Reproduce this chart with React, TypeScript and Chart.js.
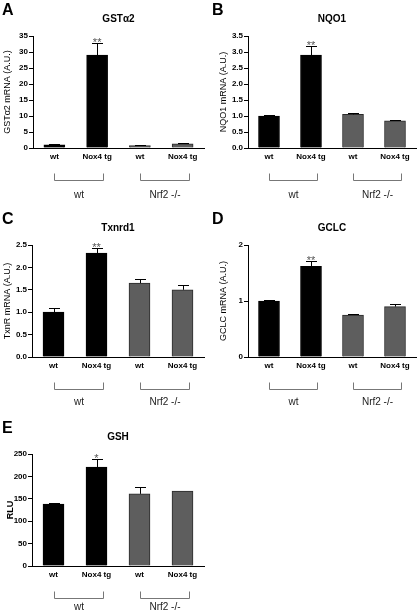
import React, { useEffect, useRef } from "react";
import { Chart, registerables } from "chart.js";

Chart.register(...registerables);

const FONT = "'Liberation Sans', Arial, Helvetica, sans-serif";

// ---------- data ----------
const categories = ["wt", "Nox4 tg", "wt", "Nox4 tg"];
const groupLabels = ["wt", "Nrf2 -/-"];

const gstValues = [1.0, 29.0, 0.75, 1.3];
const gstErrors = [0.15, 3.8, 0.12, 0.3];
const gstStars = ["", "**", "", ""];
const gstTicks = [0, 5, 10, 15, 20, 25, 30, 35];

const nqo1Values = [1.0, 2.9, 1.05, 0.85];
const nqo1Errors = [0.02, 0.28, 0.03, 0.02];
const nqo1Stars = ["", "**", "", ""];
const nqo1Ticks = [0, 0.5, 1.0, 1.5, 2.0, 2.5, 3.0, 3.5];

const txnValues = [1.0, 2.32, 1.65, 1.5];
const txnErrors = [0.1, 0.11, 0.09, 0.11];
const txnStars = ["", "**", "", ""];
const txnTicks = [0, 0.5, 1.0, 1.5, 2.0, 2.5];

const gclcValues = [1.0, 1.62, 0.75, 0.9];
const gclcErrors = [0.01, 0.09, 0.02, 0.05];
const gclcStars = ["", "**", "", ""];
const gclcTicks = [0, 1, 2];

const gshValues = [138, 221, 161, 167];
const gshErrors = [2, 17, 15, 0];
const gshStars = ["", "*", "", ""];
const gshTicks = [0, 50, 100, 150, 200, 250];

const barFill = ["#000000", "#000000", "#5e5e5e", "#5e5e5e"];
const barBorder = ["#000000", "#000000", "#2a2a2a", "#2a2a2a"];

type Panel = {
  letter: string;
  title: string;
  yTitle: string;
  yTitleBold: boolean;
  values: number[];
  errors: number[];
  stars: string[];
  ticks: number[];
  decimals: number;
};

const panels: Panel[] = [
  { letter: "A", title: "GSTα2", yTitle: "GSTα2 mRNA (A.U.)", yTitleBold: false, values: gstValues, errors: gstErrors, stars: gstStars, ticks: gstTicks, decimals: 0 },
  { letter: "B", title: "NQO1", yTitle: "NQO1 mRNA (A.U.)", yTitleBold: false, values: nqo1Values, errors: nqo1Errors, stars: nqo1Stars, ticks: nqo1Ticks, decimals: 1 },
  { letter: "C", title: "Txnrd1", yTitle: "TxnR mRNA (A.U.)", yTitleBold: false, values: txnValues, errors: txnErrors, stars: txnStars, ticks: txnTicks, decimals: 1 },
  { letter: "D", title: "GCLC", yTitle: "GCLC mRNA (A.U.)", yTitleBold: false, values: gclcValues, errors: gclcErrors, stars: gclcStars, ticks: gclcTicks, decimals: 0 },
  { letter: "E", title: "GSH", yTitle: "RLU", yTitleBold: true, values: gshValues, errors: gshErrors, stars: gshStars, ticks: gshTicks, decimals: 0 },
];

// ---------- layout (positions/sizes) ----------
type Box = { left: number; top: number; width: number; height: number; axisW: number; padRight: number; titlePad: number; groupOffset: number };
const boxes: Box[] = [
  { left: 0, top: 0, width: 210, height: 209, axisW: 33, padRight: 6, titlePad: 2, groupOffset: 47 },
  { left: 210, top: 0, width: 210, height: 209, axisW: 38, padRight: 4, titlePad: 8, groupOffset: 47 },
  { left: 0, top: 209, width: 210, height: 209, axisW: 32, padRight: 6, titlePad: 2, groupOffset: 45 },
  { left: 210, top: 209, width: 210, height: 209, axisW: 38, padRight: 4, titlePad: 8, groupOffset: 45 },
  { left: 0, top: 418, width: 210, height: 198, axisW: 32, padRight: 6, titlePad: 5, groupOffset: 41 },
];

const PLOT_TOP = 36;
const PLOT_BOTTOM = 148;
const XAXIS_H = 14;

function makeDecor(panel: Panel, box: Box) {
  return {
    id: "decor" + panel.letter,
    afterDraw(chart: any) {
      const ctx = chart.ctx as CanvasRenderingContext2D;
      const area = chart.chartArea;
      const xs = chart.scales.x;
      const ys = chart.scales.y;
      ctx.save();
      // panel letter
      ctx.fillStyle = "#000";
      ctx.font = `bold 16px ${FONT}`;
      ctx.textAlign = "left";
      ctx.textBaseline = "top";
      ctx.fillText(panel.letter, 2, 3);
      // title
      ctx.font = `bold 10px ${FONT}`;
      ctx.textAlign = "center";
      ctx.textBaseline = "middle";
      ctx.fillText(panel.title, (area.left + area.right) / 2, 19);

      // error bars + stars
      const meta = chart.getDatasetMeta(0);
      meta.data.forEach((el: any, i: number) => {
        const v = panel.values[i];
        const e = panel.errors[i];
        const x = el.x;
        const yTop = ys.getPixelForValue(v + e);
        ctx.strokeStyle = "#000";
        ctx.lineWidth = 1;
        if (e > 0) {
          ctx.beginPath();
          ctx.moveTo(Math.round(x) + 0.5, el.y);
          ctx.lineTo(Math.round(x) + 0.5, Math.round(yTop) + 0.5);
          ctx.moveTo(Math.round(x - 5), Math.round(yTop) + 0.5);
          ctx.lineTo(Math.round(x + 6), Math.round(yTop) + 0.5);
          ctx.stroke();
        }
        if (panel.stars[i]) {
          ctx.fillStyle = "#555";
          ctx.font = `11px ${FONT}`;
          ctx.textAlign = "center";
          ctx.textBaseline = "alphabetic";
          ctx.fillText(panel.stars[i], x, yTop + 3);
        }
      });

      // brackets + group labels
      ctx.strokeStyle = "#777";
      ctx.lineWidth = 1;
      ctx.fillStyle = "#222";
      ctx.font = `10px ${FONT}`;
      ctx.textAlign = "center";
      ctx.textBaseline = "middle";
      groupLabels.forEach((g, gi) => {
        const x1 = Math.round(xs.getPixelForValue(gi * 2)) + 0.5;
        const x2 = Math.round(xs.getPixelForValue(gi * 2 + 1) + 6) + 0.5;
        const yb = Math.round(area.bottom + 32) + 0.5;
        ctx.beginPath();
        ctx.moveTo(x1, yb - 7);
        ctx.lineTo(x1, yb);
        ctx.lineTo(x2, yb);
        ctx.lineTo(x2, yb - 7);
        ctx.stroke();
        ctx.fillText(g, (x1 + x2) / 2, area.bottom + box.groupOffset);
      });
      ctx.restore();
    },
  };
}

function PanelChart({ panel, box }: { panel: Panel; box: Box }) {
  const ref = useRef<HTMLCanvasElement | null>(null);
  useEffect(() => {
    if (!ref.current) return;
    const yMax = panel.ticks[panel.ticks.length - 1];
    const step = panel.ticks[1] - panel.ticks[0];
    const chart = new Chart(ref.current, {
      type: "bar",
      data: {
        labels: categories,
        datasets: [
          {
            data: panel.values,
            backgroundColor: barFill,
            borderColor: barBorder,
            borderWidth: 1,
            barThickness: 21,
          },
        ],
      },
      options: {
        animation: false,
        responsive: false,
        maintainAspectRatio: false,
        devicePixelRatio: 1,
        layout: {
          padding: {
            left: 0,
            top: PLOT_TOP,
            right: box.padRight,
            bottom: box.height - PLOT_BOTTOM - XAXIS_H,
          },
        },
        plugins: {
          legend: { display: false },
          tooltip: { enabled: false },
          title: { display: false },
        },
        scales: {
          x: {
            offset: true,
            grid: { display: false, drawTicks: false },
            border: { display: true, color: "#000", width: 1 },
            ticks: {
              color: "#000",
              font: { family: FONT, size: 8, weight: "bold" },
              padding: 4,
              maxRotation: 0,
              autoSkip: false,
            },
            afterFit: (s: any) => {
              s.height = XAXIS_H;
            },
          },
          y: {
            min: 0,
            max: yMax,
            ticks: {
              stepSize: step,
              color: "#000",
              font: { family: FONT, size: 8, weight: "bold" },
              padding: 1,
              callback: (v: any) => Number(v).toFixed(panel.decimals),
            },
            grid: { display: true, drawOnChartArea: false, drawTicks: true, tickLength: 4, color: "#000" },
            border: { display: true, color: "#000", width: 1 },
            title: {
              display: true,
              text: panel.yTitle,
              color: "#000",
              font: { family: FONT, size: 9, weight: panel.yTitleBold ? "bold" : "normal" },
              padding: { top: box.titlePad, bottom: 0 },
            },
            afterFit: (s: any) => {
              s.width = box.axisW;
            },
          },
        },
      } as any,
      plugins: [makeDecor(panel, box)],
    });
    return () => chart.destroy();
  }, [panel, box]);
  return (
    <canvas
      ref={ref}
      width={box.width}
      height={box.height}
      style={{ position: "absolute", left: box.left, top: box.top, width: box.width, height: box.height }}
    />
  );
}

export default function App() {
  return (
    <div style={{ position: "absolute", left: 0, top: 0, width: 420, height: 616, background: "#fff", fontFamily: FONT }}>
      {panels.map((p, i) => (
        <PanelChart key={p.letter} panel={p} box={boxes[i]} />
      ))}
    </div>
  );
}
